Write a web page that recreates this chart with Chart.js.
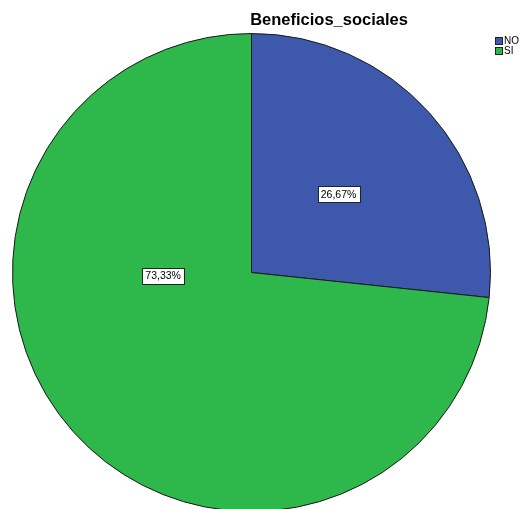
<!DOCTYPE html>
<html>
<head>
<meta charset="utf-8">
<script src="https://cdn.jsdelivr.net/npm/chart.js@4"></script>
<style>
  html, body { margin: 0; padding: 0; background: #fff; overflow: hidden; }
  #wrap { position: relative; width: 523px; height: 560px; }
</style>
</head>
<body>
<div id="wrap"><canvas id="pieChart" width="523" height="560"></canvas></div>
<script>
const tituloGrafico = 'Beneficios_sociales';
const categorias = ['NO', 'SI'];
const porcentajes = [26.67, 73.33];
const etiquetas = ['26,67%', '73,33%'];
const colores = ['#3E58AC', '#2EB84B'];

// posiciones de las etiquetas: angulo (grados desde arriba) y fraccion del radio
const posEtiquetas = [
    { ang: 48, frac: 0.49 },
    { ang: 268, frac: 0.37 }
];

const extras = {
    id: 'extras',
    afterDatasetsDraw(chart) {
        const ctx = chart.ctx;
        const arcs = chart.getDatasetMeta(0).data;
        ctx.save();

        // etiquetas de porcentaje
        ctx.font = '10.5px "Liberation Sans", Arial, sans-serif';
        ctx.textAlign = 'center';
        ctx.textBaseline = 'middle';
        arcs.forEach((arc, i) => {
            const p = posEtiquetas[i];
            const a = p.ang * Math.PI / 180;
            const x = arc.x + Math.sin(a) * arc.outerRadius * p.frac;
            const y = arc.y - Math.cos(a) * arc.outerRadius * p.frac;
            const w = ctx.measureText(etiquetas[i]).width + 6;
            const h = 16;
            ctx.fillStyle = '#fff';
            ctx.fillRect(Math.round(x - w / 2) + 0.5, Math.round(y - h / 2) + 0.5, Math.round(w), h);
            ctx.strokeStyle = '#222';
            ctx.lineWidth = 1;
            ctx.strokeRect(Math.round(x - w / 2) + 0.5, Math.round(y - h / 2) + 0.5, Math.round(w), h);
            ctx.fillStyle = '#000';
            ctx.fillText(etiquetas[i], x, y + 1);
        });

        // titulo
        ctx.font = 'bold 16.5px "Liberation Sans", Arial, sans-serif';
        ctx.fillStyle = '#000';
        ctx.textAlign = 'center';
        ctx.textBaseline = 'middle';
        ctx.fillText(tituloGrafico, 329, 20);

        // leyenda
        ctx.font = '10px "Liberation Sans", Arial, sans-serif';
        ctx.textAlign = 'left';
        categorias.forEach((c, i) => {
            const y = 37 + i * 10;
            ctx.fillStyle = colores[i];
            ctx.fillRect(495.5, y + 0.5, 7, 7);
            ctx.strokeStyle = '#222';
            ctx.strokeRect(495.5, y + 0.5, 7, 7);
            ctx.fillStyle = '#000';
            ctx.fillText(c, 504, y + 4.5);
        });
        ctx.restore();
    }
};

document.addEventListener('DOMContentLoaded', () => {
    const ctx = document.getElementById('pieChart');
    new Chart(ctx, {
        type: 'pie',
        data: {
            labels: categorias,
            datasets: [{
                data: porcentajes,
                backgroundColor: colores,
                borderColor: '#1a1a1a',
                borderWidth: 1
            }]
        },
        options: {
            responsive: false,
            animation: false,
            layout: { padding: { left: 12, right: 32, top: 33, bottom: 48 } },
            plugins: {
                legend: { display: false },
                tooltip: { enabled: false },
                title: { display: false }
            }
        },
        plugins: [extras]
    });
});
</script>
</body>
</html>
